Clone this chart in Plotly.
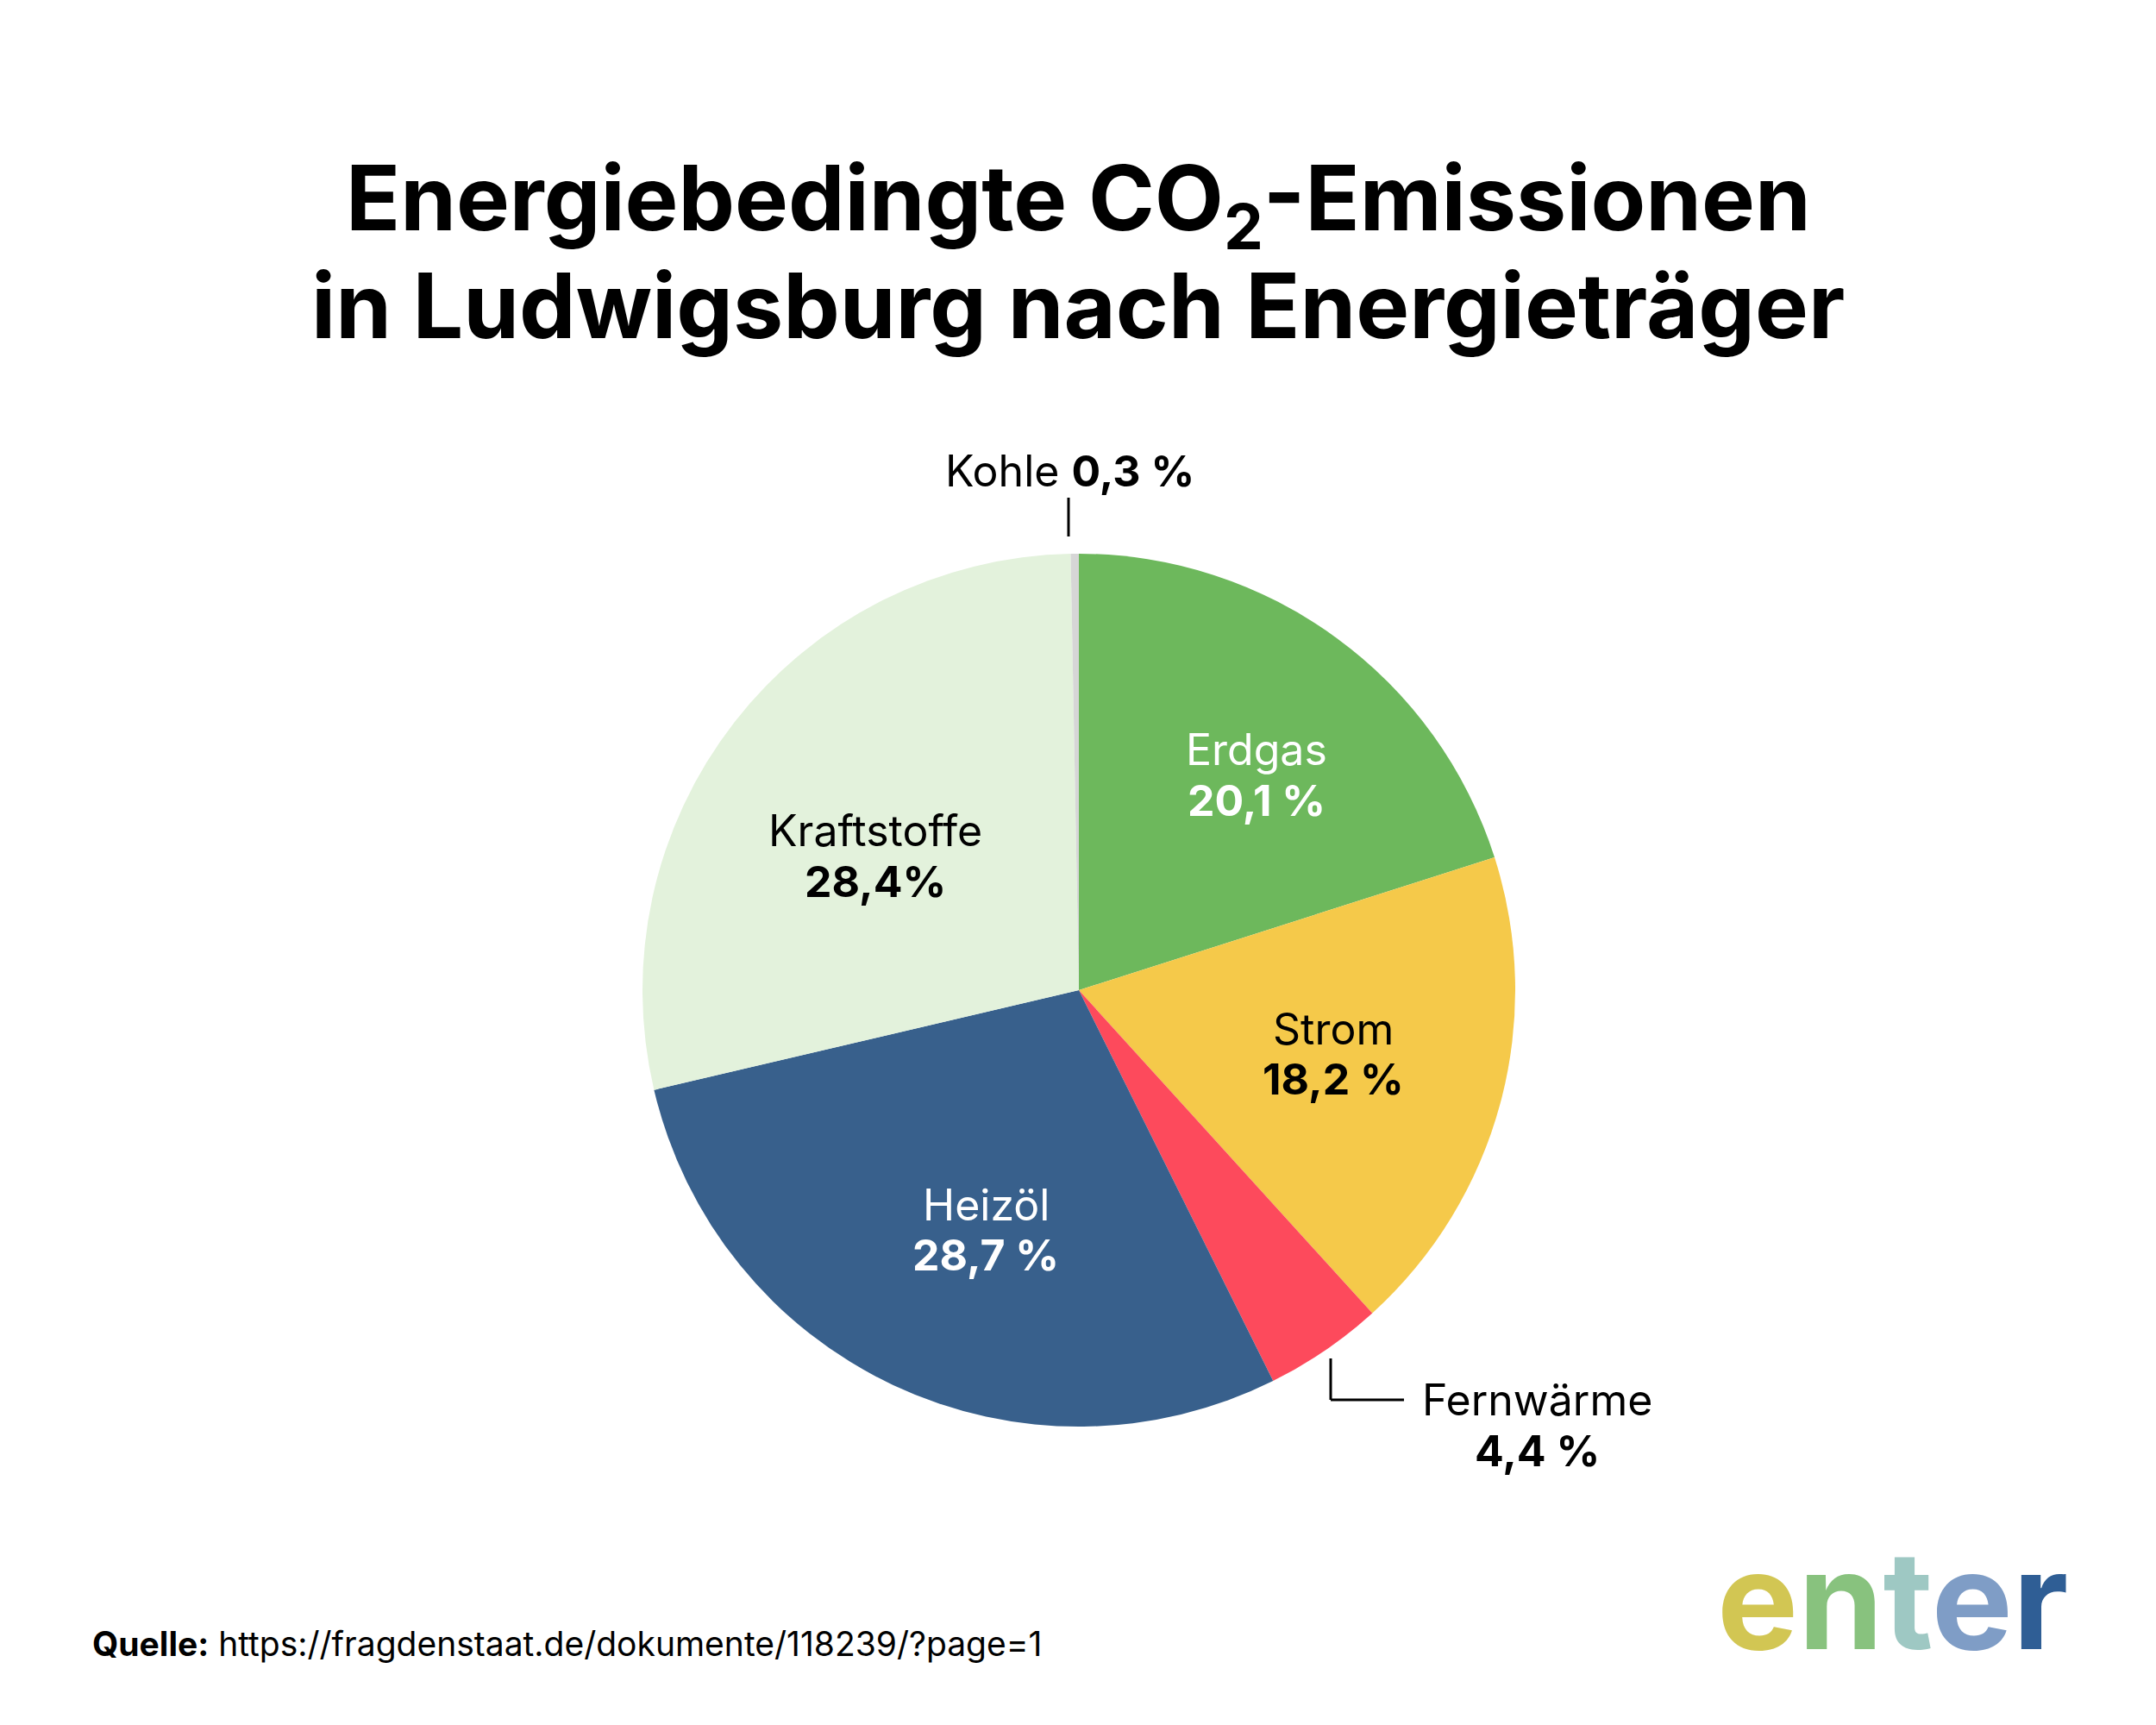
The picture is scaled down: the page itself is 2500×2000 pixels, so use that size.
import plotly.graph_objects as go

categories = ["Erdgas", "Strom", "Fernwärme", "Heizöl", "Kraftstoffe", "Kohle"]
values = [20.1, 18.2, 4.4, 28.7, 28.4, 0.3]
value_labels = ["20,1 %", "18,2 %", "4,4 %", "28,7 %", "28,4%", "0,3 %"]
colors = ["#6db85c", "#f5c94a", "#fd4a5c", "#38608c", "#e3f2dc", "#d6d6d6"]

W, H = 2500, 2000
FONT = "Inter, 'Open Sans', sans-serif"
LBL = 50

fig = go.Figure()
fig.add_trace(go.Pie(
    labels=categories, values=values, sort=False, direction="clockwise",
    rotation=0, marker=dict(colors=colors, line=dict(width=0)),
    textinfo="none", hoverinfo="label+value", showlegend=False,
    domain=dict(x=[(1251 - 506) / W, (1251 + 506) / W],
                y=[(852 - 506) / H, (852 + 506) / H]),
))

def px(x):
    return x / W

def py(y):
    return 1 - y / H

def text(x, y, t, size, color="black", xanchor="center", yanchor="middle"):
    return dict(x=px(x), y=py(y), text=t, showarrow=False, xanchor=xanchor, yanchor=yanchor,
                xref="paper", yref="paper", font=dict(family=FONT, size=size, color=color))

ann = []
inside = {
    "Erdgas": (1457, 869, 928, "white"),
    "Strom": (1546, 1193, 1251, "black"),
    "Heizöl": (1143, 1397, 1455, "white"),
    "Kraftstoffe": (1015, 963, 1022, "black"),
}
for i, c in enumerate(categories):
    if c in inside:
        x, y1, y2, col = inside[c]
        ann.append(text(x, y1, c, LBL, col))
        ann.append(text(x, y2, "<b>" + value_labels[i] + "</b>", LBL, col))

ann.append(text(1240, 546, categories[5] + " <b>" + value_labels[5] + "</b>", LBL))
ann.append(text(1782, 1623, categories[2], LBL))
ann.append(text(1782, 1682, "<b>" + value_labels[2] + "</b>", LBL))

ann.append(text(1250, 236, "<b>Energiebedingte CO<sub>2</sub>-Emissionen</b>", 104))
ann.append(text(1250, 354, "<b>in Ludwigsburg nach Energieträger</b>", 104))

ann.append(text(105, 1905, "<b>Quelle:</b> https://fragdenstaat.de/dokumente/118239/?page=1", 39,
                xanchor="left"))

logo = ('<span style="color:#d2c653">e</span><span style="color:#88c27e">n</span>'
        '<span style="color:#9ec8c3">t</span><span style="color:#7f9dc6">e</span>'
        '<span style="color:#2f5e95">r</span>')
ann.append(text(2400, 1854, "<b>" + logo + "</b>", 158, xanchor="right"))

shapes = [
    dict(type="line", xref="paper", yref="paper", x0=px(1239), x1=px(1239), y0=py(577), y1=py(622),
         line=dict(color="black", width=3)),
    dict(type="line", xref="paper", yref="paper", x0=px(1543), x1=px(1543), y0=py(1575), y1=py(1623),
         line=dict(color="black", width=3)),
    dict(type="line", xref="paper", yref="paper", x0=px(1543), x1=px(1628), y0=py(1623), y1=py(1623),
         line=dict(color="black", width=3)),
]

fig.update_layout(width=W, height=H, margin=dict(l=0, r=0, t=0, b=0),
                  paper_bgcolor="white", plot_bgcolor="white",
                  annotations=ann, shapes=shapes)
fig.write_html("out.html")
